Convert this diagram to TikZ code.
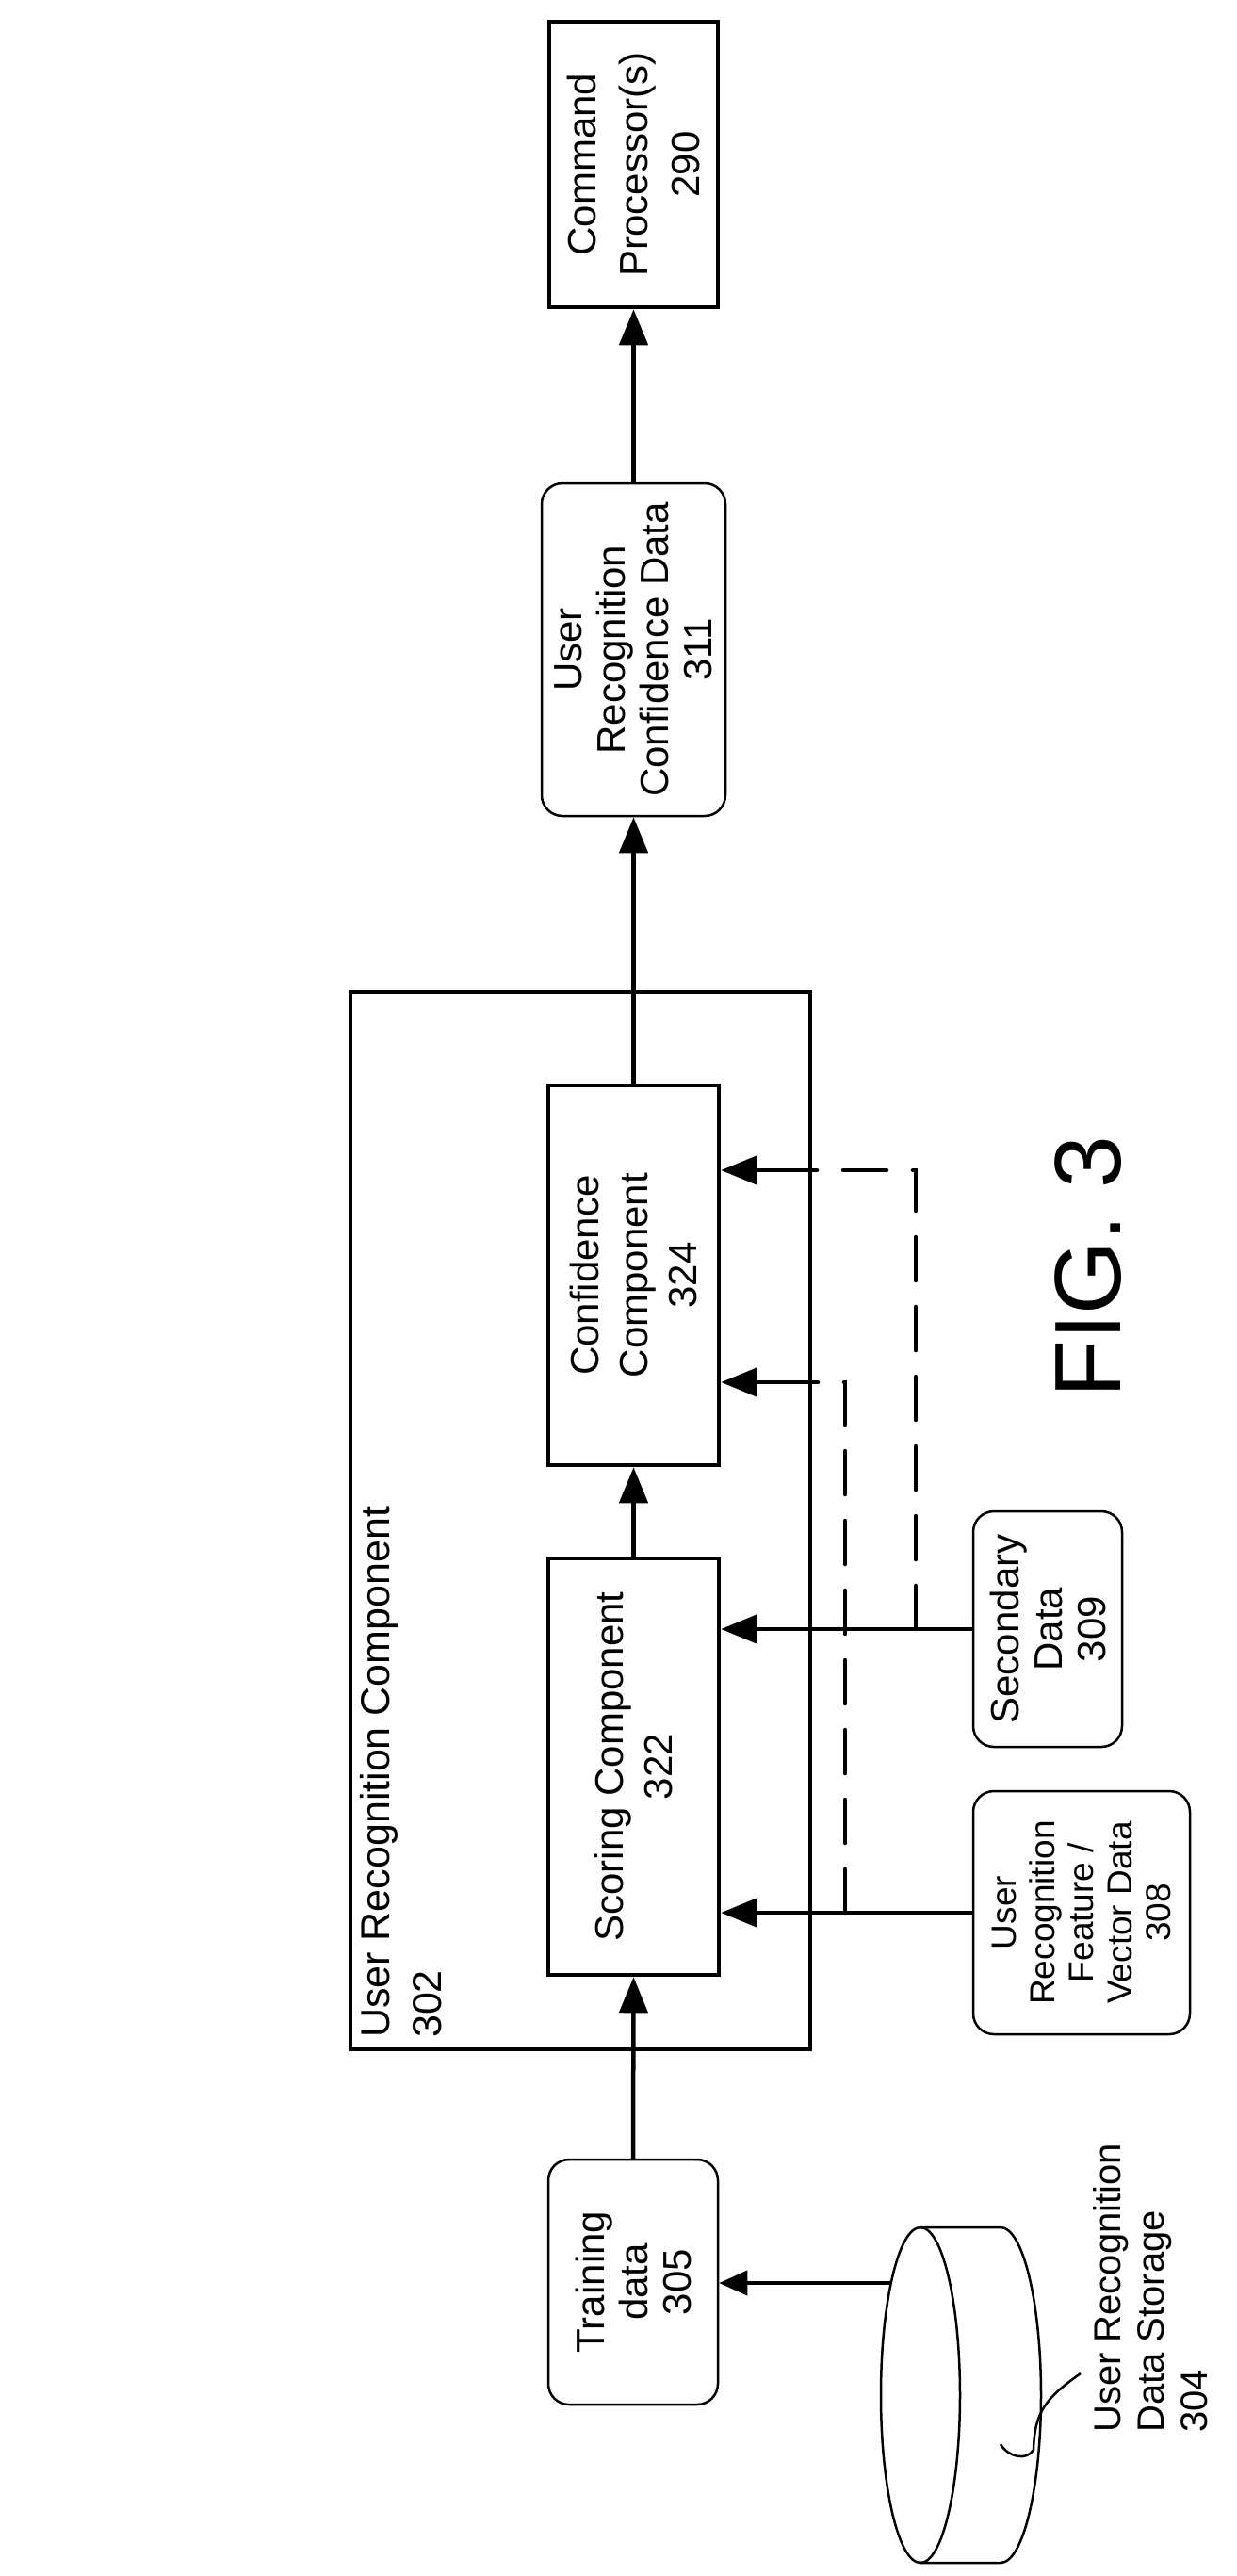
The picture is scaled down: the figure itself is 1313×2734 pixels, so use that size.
\documentclass[tikz,border=0pt]{standalone}
\usepackage{fontspec}
\setmainfont{Liberation Sans}
\usetikzlibrary{arrows.meta}
\begin{document}
\begin{tikzpicture}[x=1pt,y=-1pt,
  txt/.style={font=\fontsize{42}{46}\selectfont, align=center},
  sbox/.style={draw, line width=4.5pt, rotate=90, txt, inner sep=0pt},
  rbox/.style={draw, line width=2.5pt, rounded corners=22pt, rotate=90, txt, inner sep=0pt},
  arr/.style={line width=4.5pt, -{Triangle[length=38pt,width=30pt]}},
  dsh/.style={line width=4.5pt, dash pattern=on 46pt off 28pt, line cap=round}]
\useasboundingbox (0,0) rectangle (1313,2734);
\fill[white] (0,0) rectangle (1313,2734);

% nodes (rotated: minimum width = page height, minimum height = page width)
\node[sbox, minimum width=303, minimum height=179, font=\fontsize{42}{55}\selectfont] (cmd) at (672.5,174.5) {Command\\Processor(s)\\290};
\node[rbox, minimum width=353, minimum height=195] (urcd) at (672.5,689.5) {User\\Recognition\\Confidence Data\\311};
\node[draw, line width=4.5pt, minimum width=488, minimum height=1122, inner sep=0pt] (outer) at (616,1614) {};
\node[rotate=90, anchor=north west, align=left, inner sep=0pt, font=\fontsize{43}{55}\selectfont] (outerlbl) at (382,2163) {User Recognition Component\\302};
\node[sbox, minimum width=403, minimum height=181, font=\fontsize{42}{52}\selectfont] (conf) at (672.5,1353.5) {Confidence\\Component\\324};
\node[sbox, minimum width=442, minimum height=181, font=\fontsize{42}{52}\selectfont] (score) at (672.5,1875) {Scoring Component\\322};
\node[rbox, minimum width=260, minimum height=180] (train) at (672,2422) {Training\\data\\305};
\node[rbox, minimum width=250, minimum height=158] (sec) at (1112,1729) {Secondary\\Data\\309};
\node[rbox, minimum width=258, minimum height=230, font=\fontsize{37}{41}\selectfont] (feat) at (1148,2030) {User\\Recognition\\Feature /\\Vector Data\\308};
\node[rotate=90, font=\fontsize{100}{110}\selectfont] (fig) at (1155,1345) {FIG. 3};
\node[rotate=90, anchor=north west, align=left, inner sep=0pt, font=\fontsize{40}{46}\selectfont] (stlbl) at (1160,2582) {User Recognition\\Data Storage\\304};

% storage cylinder
\draw[line width=2.5pt] (977,2542) ellipse [x radius=42, y radius=178];
\draw[line width=2.5pt] (977,2364) -- (1062,2364) arc[start angle=-90, end angle=90, x radius=43, y radius=178] -- (977,2720);
\coordinate (cyl) at (946,2423);
\draw[line width=2.5pt] (1147,2519) .. controls (1110,2545) and (1098,2560) .. (1097,2600) .. controls (1090,2612) and (1070,2608) .. (1062,2594);

% main flow
\draw[arr] (urcd.east) -- (cmd.west);
\draw[arr] (conf.east) -- (urcd.west);
\draw[arr] (score.east) -- (conf.west);
\draw[arr] (train.east) -- (score.west);
\draw[line width=4pt, -{Triangle[length=30pt,width=26pt]}] (cyl) -- (train.south |- cyl);

% inputs
\draw[arr] (sec.north) -- (score.south |- sec.north);
\draw[arr] (feat.north) -- (score.south |- feat.north);
\coordinate (j1) at (972,1729);
\coordinate (k1) at (972,1242);
\coordinate (j2) at (897,2030);
\coordinate (k2) at (897,1467);
\draw[dsh] (j1) -- (k1) -- (outer.east |- k1);
\draw[dsh] (j2) -- (k2) -- (outer.east |- k2);
\draw[arr] (outer.east |- k1) -- (conf.south |- k1);
\draw[arr] (outer.east |- k2) -- (conf.south |- k2);
\end{tikzpicture}
\end{document}
